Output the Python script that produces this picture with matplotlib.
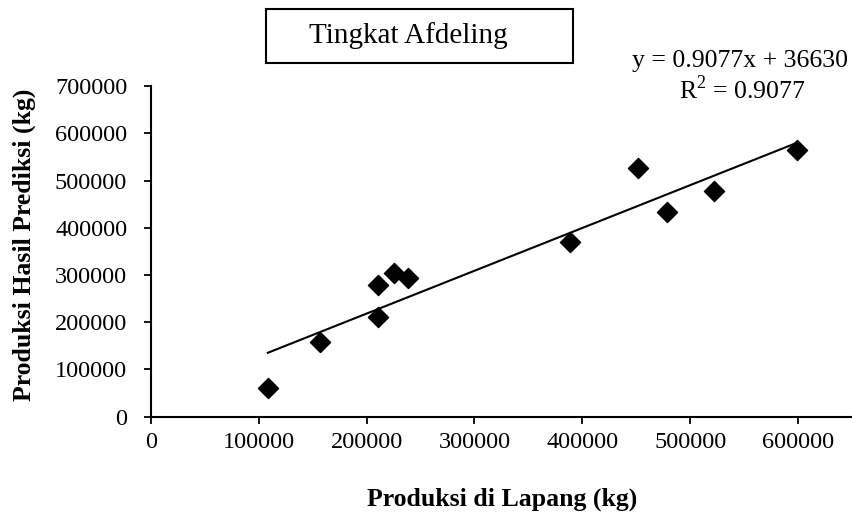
import matplotlib
matplotlib.use('Agg')

import numpy as np
import matplotlib.pyplot as plt
from matplotlib.patches import Rectangle

# data
produksi_lapang = [108500, 156900, 210300, 210300, 225100, 238100,
                   388300, 451400, 478800, 521700, 598700]
produksi_prediksi = [60000, 157400, 278800, 210300, 303500, 292900,
                     370500, 527900, 434000, 477800, 564600]
slope = 0.9077
intercept = 36630
r2 = 0.9077

x_ticks = [0, 100000, 200000, 300000, 400000, 500000, 600000]
y_ticks = [0, 100000, 200000, 300000, 400000, 500000, 600000, 700000]

plt.rcParams['font.family'] = 'Liberation Serif'
plt.rcParams['mathtext.fontset'] = 'custom'
plt.rcParams['mathtext.rm'] = 'Liberation Serif'

W, H = 852, 520
fig = plt.figure(figsize=(W / 100, H / 100), dpi=100)
ax = fig.add_axes([0.177, 0.199, 0.823, 0.635])

ax.scatter(produksi_lapang, produksi_prediksi, marker='D', s=105,
           color='black', zorder=3)

# linear trendline from the fitted equation
xl = np.array([min(produksi_lapang), max(produksi_lapang)])
ax.plot(xl, slope * xl + intercept, color='black', lw=1.5)

ax.set_xlim(0, 650000)
ax.set_ylim(0, 700000)
ax.set_xticks(x_ticks)
ax.set_yticks(y_ticks)
ax.tick_params(labelsize=17.5, direction='out', length=5, width=1.3)
ax.tick_params(axis='x', pad=6)
ax.tick_params(axis='y', pad=12)
ax.spines['top'].set_visible(False)
ax.spines['right'].set_visible(False)
ax.spines['left'].set_linewidth(1.5)
ax.spines['bottom'].set_linewidth(1.5)

fig.text(502 / W, 1 - 499 / H, 'Produksi di Lapang (kg)', fontsize=18.5,
         fontweight='bold', ha='center', va='center')
fig.text(24 / W, 0.53, 'Produksi Hasil Prediksi (kg)', fontsize=18.5,
         fontweight='bold', ha='center', va='center', rotation=90)

# title box
fig.patches.append(Rectangle((266 / W, 1 - 63 / H), 307 / W, 54 / H,
                             transform=fig.transFigure, fc='white',
                             ec='black', lw=1.5))
fig.text(408.5 / W, 1 - 43 / H, 'Tingkat Afdeling', fontsize=21,
         ha='center', va='baseline')

fig.text(740 / W, 1 - 67 / H, 'y = %.4fx + %d' % (slope, intercept),
         fontsize=18.5, ha='center', va='baseline')
fig.text(742 / W, 1 - 99 / H, 'R$^2$ = %.4f' % r2,
         fontsize=18.5, ha='center', va='baseline')

fig.savefig('out.png', dpi=100)
plt.close()
